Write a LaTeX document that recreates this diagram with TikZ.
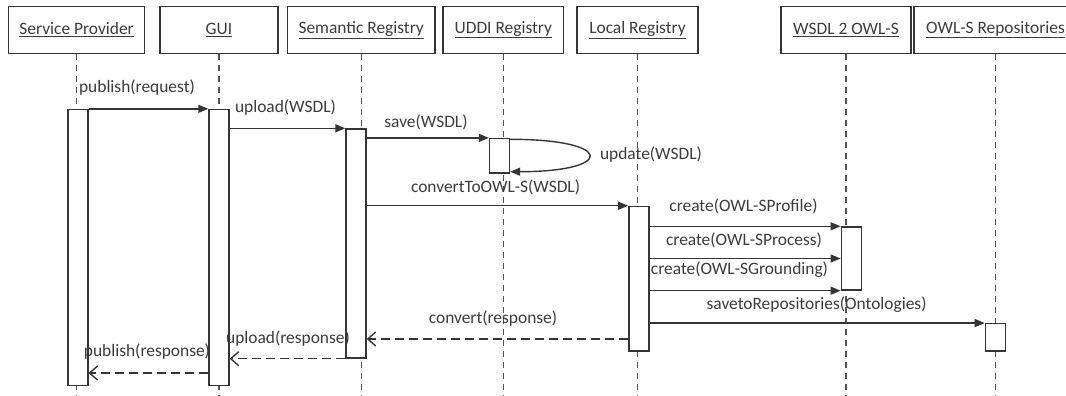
\documentclass[tikz,border=0pt]{standalone}
\usepackage{fontspec}
\setmainfont{Carlito}
\usepackage{tikz}
\usetikzlibrary{arrows.meta,calc}
\definecolor{linegray}{HTML}{353535}
\definecolor{textgray}{HTML}{3C3C3C}
\tikzstyle{headbox} = [draw=linegray, line width=1.4pt, rectangle,
    minimum height=47pt, text=textgray, inner sep=2pt]
\tikzstyle{actbox} = [draw=linegray, fill=white, line width=1.4pt,
    rectangle, minimum width=20pt, inner sep=0pt]
\tikzstyle{lifeline} = [draw=linegray!85, line width=1.3pt, dash pattern=on 6pt off 5pt]
\tikzstyle{msg} = [draw=linegray, line width=1.4pt, -{Triangle[length=10pt,width=8pt]}]
\tikzstyle{reply} = [draw=linegray, line width=1.4pt, dash pattern=on 9pt off 5pt,
    -{Straight Barb[length=8pt,width=14pt]}]
\tikzstyle{msglabel} = [text=textgray, inner sep=1pt]

\begin{document}
\begin{tikzpicture}[x=1pt, y=-1pt, font=\fontsize{17.4}{20}\selectfont]
    \useasboundingbox (0,0) rectangle (1066,396);
    \clip (0,0) rectangle (1066,396);
    % objects
    \node[headbox, minimum width=136pt] (sp) at (76.6,29.8) {\underline{Service Provider}};
    \node[headbox, minimum width=118pt] (gui) at (219,29.8) {\underline{GUI}};
    \node[headbox, minimum width=147.5pt] (sem) at (361.2,29.8) {\underline{Semantic Registry}};
    \node[headbox, minimum width=120.7pt] (uddi) at (503.3,29.8) {\underline{UDDI Registry}};
    \node[headbox, minimum width=121pt] (loc) at (637.5,29.8) {\underline{Local Registry}};
    \node[headbox, minimum width=130pt] (w2o) at (846,29.8) {\underline{WSDL 2 OWL-S}};
    \node[headbox, minimum width=163pt] (repo) at (995.5,29.8) {\underline{OWL-S Repositories}};
    \coordinate (bottom) at (0,396);
    \foreach \n in {sp,gui,sem,uddi,loc,w2o,repo}
        \draw[lifeline] (\n.south) -- (\n.south |- bottom);
    % activations
    \node[actbox, minimum height=276pt] (spAct) at (77.8,247.5) {};
    \node[actbox, minimum height=276pt] (guiAct) at (219,247.5) {};
    \node[actbox, minimum height=229pt] (semAct) at (356,243.5) {};
    \node[actbox, minimum height=34.4pt] (uddiAct) at (499.5,155.8) {};
    \node[actbox, minimum height=144.6pt] (locAct) at (638.8,278.7) {};
    \node[actbox, minimum height=63pt] (w2oAct) at (851.3,258.5) {};
    \node[actbox, minimum height=27.3pt] (repoAct) at (995.4,337.4) {};
    % messages
    \draw[msg] (spAct.north east) -- (guiAct.north west);
    \draw[msg] (guiAct.east |- semAct.north) -- (semAct.north west);
    \draw[msg] (semAct.east |- uddiAct.north) -- (uddiAct.north west);
    \draw[msg] ($(uddiAct.north east)+(0,1.4)$) .. controls +(105,0) and +(105,0) .. ($(uddiAct.south east)+(0,-2)$);
    \draw[msg] (semAct.east |- locAct.north) -- (locAct.north west);
    \draw[msg] (locAct.east |- w2oAct.north) -- (w2oAct.north west);
    \draw[msg] (locAct.east |- w2oAct.center) -- (w2oAct.west);
    \draw[msg] (locAct.east |- w2oAct.south) -- (w2oAct.south west);
    \draw[msg] (locAct.east |- repoAct.north) -- (repoAct.north west);
    \coordinate (r1) at (0,339);
    \coordinate (r3) at (0,373);
    \draw[reply] (locAct.west |- r1) -- (semAct.east |- r1);
    \draw[reply] (semAct.south west) -- (guiAct.east |- semAct.south);
    \draw[reply] (guiAct.west |- r3) -- (spAct.east |- r3);
    % labels
    \node[msglabel] (lPubReq) at (137,88) {publish(request)};
    \node[msglabel] (lUpWsdl) at (285.5,108) {upload(WSDL)};
    \node[msglabel] (lSave) at (426,122) {save(WSDL)};
    \node[msglabel] (lUpdate) at (651,155) {update(WSDL)};
    \node[msglabel] (lConv) at (495.6,187) {convertToOWL-S(WSDL)};
    \node[msglabel] (lProfile) at (743.5,206) {create(OWL-SProfile)};
    \node[msglabel] (lProcess) at (744,240) {create(OWL-SProcess)};
    \node[msglabel] (lGround) at (739.5,270) {create(OWL-SGrounding)};
    \node[msglabel] (lSaveRep) at (816.6,304.7) {savetoRepositories(Ontologies)};
    \node[msglabel] (lConvResp) at (493,318.5) {convert(response)};
    \node[msglabel] (lUpResp) at (288,339) {upload(response)};
    \node[msglabel] (lPubResp) at (147,352) {publish(response)};
\end{tikzpicture}
\end{document}
